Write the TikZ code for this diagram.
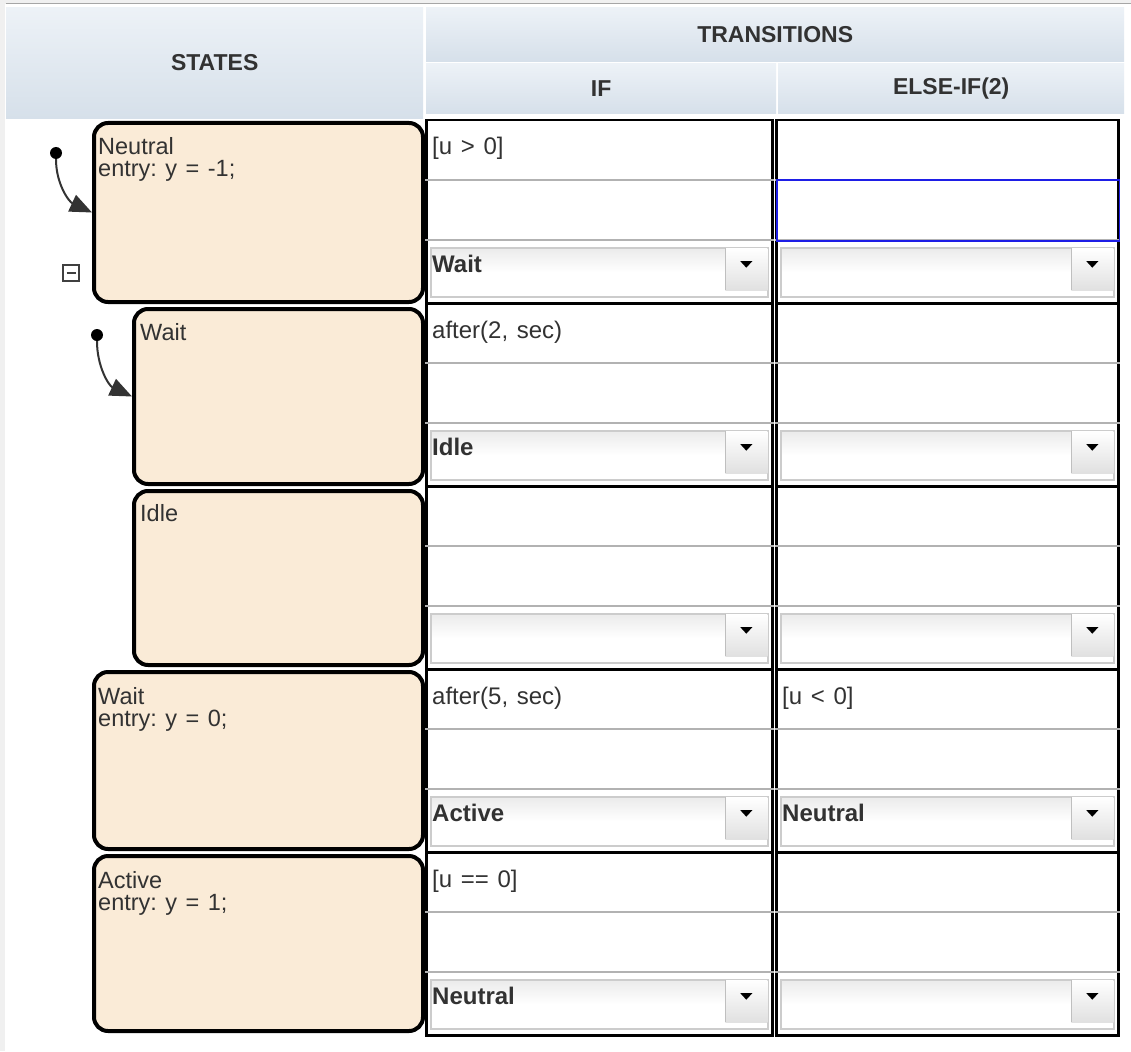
\documentclass[tikz,border=0pt]{standalone}
\usepackage{fontspec}
\setmainfont{Liberation Sans}[WordSpace=1.3]
\usetikzlibrary{arrows.meta}
\definecolor{statefill}{RGB}{250,235,215}
\definecolor{hdrtop}{RGB}{237,242,247}
\definecolor{hdrbot}{RGB}{214,224,234}
\definecolor{txt}{RGB}{50,50,50}
\definecolor{focus}{RGB}{30,30,230}
\frenchspacing
\begin{document}
\begin{tikzpicture}
	[x=1pt,y=-1pt,
	hdr/.style={rectangle,anchor=north west,inner sep=0pt,top color=hdrtop,bottom color=hdrbot,text=txt,font=\fontsize{23}{22}\selectfont\bfseries},
	state/.style={rectangle,rounded corners=14pt,anchor=north west,inner sep=0pt,draw=black,line width=4pt,fill=statefill},
	stxt/.style={anchor=base west,align=left,inner sep=0pt,text=txt,font=\fontsize{23.5}{22}\selectfont},
	dot/.style={circle,fill=black,minimum size=12pt,inner sep=0pt},
	init/.style={black!80,line width=2pt,-{Triangle[length=22pt,width=18pt]}},
	cell/.style={rectangle,anchor=north west,inner sep=0pt,draw=black,line width=2.5pt,minimum height=183pt},
	sep/.style={black!30,line width=2pt},
	dropbox/.style={rectangle,anchor=north west,inner sep=0pt,draw=black!20,line width=1.5pt,top color=black!8,bottom color=white,middle color=white,minimum height=49pt},
	btn/.style={rectangle,anchor=north east,inner sep=0pt,top color=white,bottom color=black!12,minimum width=42pt,minimum height=42pt},
	cond/.style={anchor=base west,inner sep=0pt,text=txt,font=\fontsize{24}{22}\selectfont},
	pick/.style={anchor=base west,inner sep=0pt,text=txt,font=\fontsize{24}{22}\selectfont\bfseries}]
	\useasboundingbox[fill=white] (0,0) rectangle (1131,1051);
	\fill[black!6] (0,0) rectangle (1131,4);
	\fill[black!6] (0,0) rectangle (5,1051);
	\draw[black!35,line width=1pt] (6,4) -- (1131,4);
	\node[hdr,minimum width=417pt,minimum height=111pt] (stateshdr) at (6,7) {STATES};
	\node[hdr,minimum width=698pt,minimum height=54pt] (transhdr) at (426,7) {TRANSITIONS};
	\node[hdr,minimum width=350pt,minimum height=50pt] (ifhdr) at (426,63) {IF};
	\node[hdr,minimum width=346pt,minimum height=50pt] (elsehdr) at (778,63) {ELSE-IF(2)};
	\node[state,minimum width=329pt,minimum height=179pt] (neutral) at (92,121) {};
	\node[state,minimum width=289pt,minimum height=175pt] (waitin) at (132,307) {};
	\node[state,minimum width=289pt,minimum height=174pt] (idle) at (132,489) {};
	\node[state,minimum width=329pt,minimum height=177pt] (wait) at (92,670) {};
	\node[state,minimum width=329pt,minimum height=175pt] (active) at (92,854) {};
	\node[stxt] (neutraltxt) at ([xshift=6pt,yshift=-56pt]neutral.north west) {Neutral\\entry: y = -1;};
	\node[stxt] (waitintxt) at ([xshift=8pt,yshift=-33pt]waitin.north west) {Wait};
	\node[stxt] (idletxt) at ([xshift=8pt,yshift=-32pt]idle.north west) {Idle};
	\node[stxt] (waittxt) at ([xshift=6pt,yshift=-56pt]wait.north west) {Wait\\entry: y = 0;};
	\node[stxt] (activetxt) at ([xshift=6pt,yshift=-56pt]active.north west) {Active\\entry: y = 1;};
	\node[dot] (ini1) at (56,153) {};
	\node[dot] (ini2) at (97,335) {};
	\draw[init] (ini1) to[out=-90,in=155] (neutral.west);
	\draw[init] (ini2) to[out=-90,in=155] (waitin.west);
	\node[rectangle,draw=black!75,line width=2pt,minimum size=16pt,inner sep=0pt] (fold) at (71,273) {};
	\draw[black!75,line width=2pt] ([xshift=-4.5pt]fold.center) -- ([xshift=4.5pt]fold.center);
	\foreach \r/\ca/\pa/\cb/\pb in {0/{[u > 0]}/Wait/{}/{},1/{after(2, sec)}/Idle/{}/{},2/{}/{}/{}/{},3/{after(5, sec)}/Active/{[u < 0]}/Neutral,4/{[u == 0]}/Neutral/{}/{}}{
		\pgfmathsetmacro\T{119+183*\r}
		\foreach \c/\x/\w in {if/425/346,else/775/342}{
			\node[cell,minimum width=\w pt] (\c\r) at (\x,\T) {};
			\draw[sep] ([yshift=-61pt]\c\r.north west) -- ([yshift=-61pt]\c\r.north east);
			\draw[sep] ([yshift=-121pt]\c\r.north west) -- ([yshift=-121pt]\c\r.north east);
			\node[dropbox,minimum width=\w pt-9pt] (dd\c\r) at ([xshift=5pt,yshift=-128pt]\c\r.north west) {};
			\node[btn] (btn\c\r) at ([xshift=-1pt,yshift=-1pt]dd\c\r.north east) {};
			\draw[black!25,line width=1pt] (btn\c\r.north west) -- (btn\c\r.south west);
			\fill[black] ([xshift=-6pt,yshift=8pt]btn\c\r.center) -- ([xshift=6pt,yshift=8pt]btn\c\r.center) -- ([yshift=1.5pt]btn\c\r.center) -- cycle;
		}
		\node[cond] (condif\r) at ([xshift=7pt,yshift=-36pt]if\r.north west) {\ca};
		\node[cond] (condelse\r) at ([xshift=7pt,yshift=-36pt]else\r.north west) {\cb};
		\node[pick] (pickif\r) at ([xshift=2pt,yshift=-25pt]ddif\r.north west) {\pa};
		\node[pick] (pickelse\r) at ([xshift=2pt,yshift=-25pt]ddelse\r.north west) {\pb};
	}
	\draw[focus,line width=1.5pt] ([xshift=2pt,yshift=-61pt]else0.north west) rectangle ([yshift=-122pt]else0.north east);
\end{tikzpicture}
\end{document}
